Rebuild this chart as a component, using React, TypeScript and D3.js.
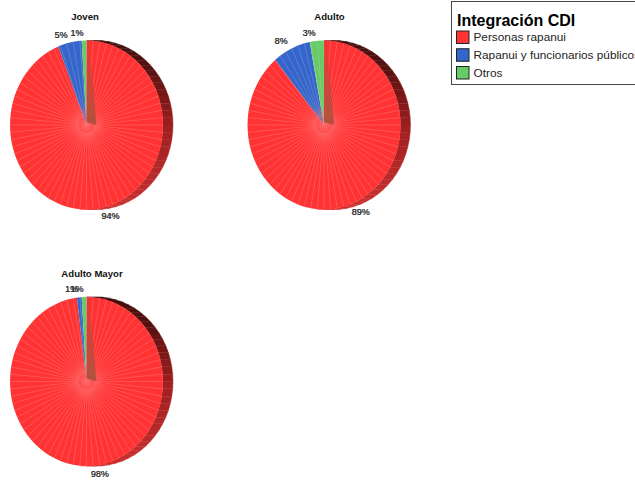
import { useEffect, useRef } from "react";
import * as d3 from "d3";

const categories = ["Personas rapanui", "Rapanui y funcionarios públicos", "Otros"];
const colors = ["#ff3333", "#3366cc", "#66cc66"];
const legendTitle = "Integración CDI";

const titles = ["Joven", "Adulto", "Adulto Mayor"];
const joven = [94, 5, 1];
const adulto = [89, 8, 3];
const adultoMayor = [98, 1, 1];
const series = [joven, adulto, adultoMayor];

// where each pie sits in the page
const layout = [
  { cx: 86.5, cy: 125, titleX: 85, titleY: 20 },
  { cx: 324, cy: 125, titleX: 329.5, titleY: 20 },
  { cx: 86.5, cy: 381.5, titleX: 92, titleY: 277 },
];

const FONT = "'Liberation Sans', Arial, sans-serif";
const RX = 76.5;
const RY = 84.5;
const DEPTH = 10;
const STEP = Math.PI / 36; // the pie is built out of 5 degree facets

export default function App() {
  const ref = useRef<SVGSVGElement | null>(null);

  useEffect(() => {
    if (!ref.current) return;
    const svg = d3.select(ref.current);
    svg.selectAll("*").remove();

    const defs = svg.append("defs");
    const glow = defs.append("radialGradient").attr("id", "glow");
    glow.append("stop").attr("offset", "0%").attr("stop-color", "#ff8080").attr("stop-opacity", 0.75);
    glow.append("stop").attr("offset", "100%").attr("stop-color", "#ff5050").attr("stop-opacity", 0);

    const wall = defs.append("linearGradient").attr("id", "wall").attr("x1", 0).attr("y1", 1).attr("x2", 0).attr("y2", 0);
    wall.append("stop").attr("offset", "0%").attr("stop-color", "#b0523e").attr("stop-opacity", 1);
    wall.append("stop").attr("offset", "60%").attr("stop-color", "#c8463a").attr("stop-opacity", 0.8);
    wall.append("stop").attr("offset", "100%").attr("stop-color", "#e03a36").attr("stop-opacity", 0.4);

    // color of the rim depends on the angle, clockwise from 12 o'clock
    const rimColor = d3.scaleLinear<string>()
      .domain([0, Math.PI * 0.25, Math.PI * 0.5, Math.PI * 0.75, Math.PI])
      .range(["#3f0c0c", "#551010", "#a02020", "#c02c2c", "#d63232"]);

    const pie = d3.pie<number>().sort(null).value(d => d);

    series.forEach((values, n) => {
      const { cx, cy, titleX, titleY } = layout[n];
      const g = svg.append("g").attr("transform", `translate(${cx},${cy})`);

      // rim: facets between the front ellipse and the shifted one
      d3.range(0, Math.PI + STEP / 2, STEP).forEach(a => {
        const b = a + STEP;
        const pts = [
          [RX * Math.sin(a), -RY * Math.cos(a)],
          [RX * Math.sin(b), -RY * Math.cos(b)],
          [RX * Math.sin(b) + DEPTH, -RY * Math.cos(b)],
          [RX * Math.sin(a) + DEPTH, -RY * Math.cos(a)],
        ];
        g.append("polygon")
          .attr("points", pts.map(p => p.join(",")).join(" "))
          .attr("fill", rimColor(a))
          .attr("stroke", rimColor(a))
          .attr("stroke-width", 0.4);
      });

      // slices, drawn as polygons so the outline keeps its facets
      const line = d3.lineRadial<number>()
        .angle(d => d)
        .radius(1);

      const arcs = pie(values);
      arcs.forEach((arc, i) => {
        const angles = d3.range(
          Math.ceil(arc.startAngle / STEP) * STEP,
          arc.endAngle,
          STEP,
        );
        const outline = [arc.startAngle, ...angles, arc.endAngle];
        const d = `M0,0L${(line(outline) || "").slice(1)}Z`;
        g.append("path")
          .attr("transform", `scale(${RX},${RY})`)
          .attr("d", d)
          .attr("fill", colors[i]);
      });

      // rays between the facets
      d3.range(0, Math.PI * 2, STEP).forEach(a => {
        g.append("line")
          .attr("x1", 8 * Math.sin(a))
          .attr("y1", -8 * Math.cos(a))
          .attr("x2", RX * Math.sin(a))
          .attr("y2", -RY * Math.cos(a))
          .attr("stroke", "#ffc4c4")
          .attr("stroke-opacity", 0.38)
          .attr("stroke-width", 0.6);
      });

      g.append("ellipse")
        .attr("rx", 20)
        .attr("ry", 20)
        .attr("fill", "url(#glow)");

      // inner wall seen through the first slice
      g.append("polygon")
        .attr("points", [[0, -RY + 1], [3, -RY + 1], [DEPTH, 0], [0, -3]].map(p => p.join(",")).join(" "))
        .attr("fill", "url(#wall)");

      // title
      svg.append("text")
        .attr("x", titleX)
        .attr("y", titleY)
        .attr("text-anchor", "middle")
        .attr("font-family", FONT)
        .attr("font-size", 9.6)
        .attr("font-weight", "bold")
        .attr("fill", "#111")
        .text(titles[n]);

      // percent labels, doubled like in the original
      arcs.forEach(arc => {
        const mid = (arc.startAngle + arc.endAngle) / 2;
        const sin = Math.sin(mid);
        const lx = sin * (RX + 8) + (sin > 0 ? 8 : -7);
        const ly = -Math.cos(mid) * (RY + 8) + 3;
        [0, 0.3].forEach(dx => {
          g.append("text")
            .attr("x", lx + dx)
            .attr("y", ly)
            .attr("text-anchor", "middle")
            .attr("font-family", FONT)
            .attr("font-size", 9)
            .attr("fill", "#333")
            .text(`${arc.data}%`);
        });
      });
    });

    // legend
    const legend = svg.append("g");
    legend.append("rect")
      .attr("x", 451.5)
      .attr("y", 1.5)
      .attr("width", 200)
      .attr("height", 83)
      .attr("fill", "#fff")
      .attr("stroke", "#444");
    legend.append("text")
      .attr("x", 457)
      .attr("y", 26)
      .attr("font-family", FONT)
      .attr("font-size", 16)
      .attr("font-weight", "bold")
      .attr("fill", "#000")
      .text(legendTitle);

    const swatchY = d3.scalePoint<string>()
      .domain(categories)
      .range([31, 66.5]);

    categories.forEach((c, i) => {
      const y = swatchY(c) as number;
      legend.append("rect")
        .attr("x", 456.5)
        .attr("y", y)
        .attr("width", 12.5)
        .attr("height", 12.5)
        .attr("fill", colors[i])
        .attr("stroke", "#222");
      legend.append("text")
        .attr("x", 473.5)
        .attr("y", y + 10)
        .attr("font-family", FONT)
        .attr("font-size", 11.8)
        .attr("fill", "#222")
        .text(c);
    });
  }, []);

  return (
    <svg
      ref={ref}
      width={635}
      height={483}
      style={{ position: "absolute", left: 0, top: 0, background: "#fff" }}
    />
  );
}
